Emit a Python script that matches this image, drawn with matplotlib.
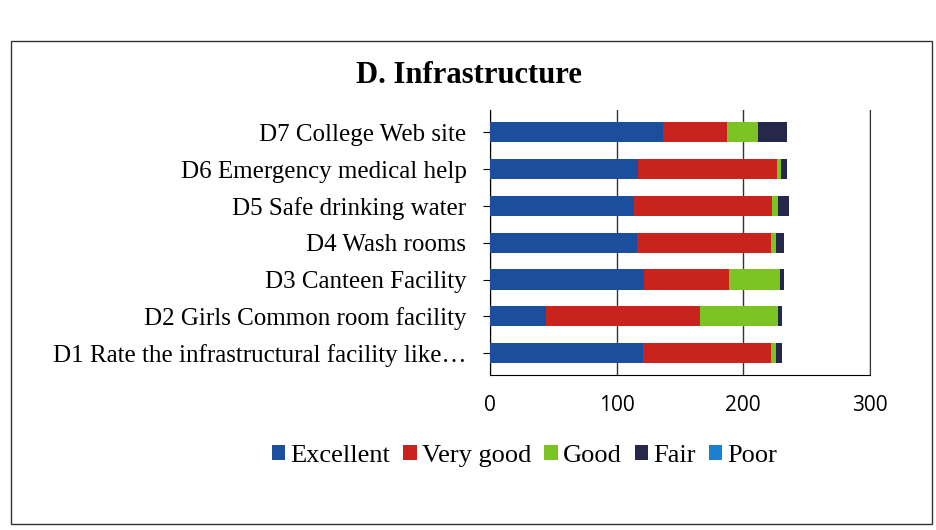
import matplotlib.pyplot as plt
import numpy as np
from matplotlib.patches import Rectangle

items = ['D1 Rate the infrastructural facility like…', 'D2 Girls Common room facility',
         'D3 Canteen Facility', 'D4 Wash rooms', 'D5 Safe drinking water',
         'D6 Emergency medical help', 'D7 College Web site']
excellent = [121, 44, 122, 116, 114, 117, 137]
very_good = [101, 122, 67, 106, 109, 110, 50]
good = [4, 62, 40, 4, 5, 3, 25]
fair = [5, 3, 3, 6, 8, 5, 23]
poor = [0, 0, 0, 0, 0, 0, 0]

series = [('Excellent', excellent, '#1b4f9e'), ('Very good', very_good, '#c8231c'),
          ('Good', good, '#7cc424'), ('Fair', fair, '#25284a'), ('Poor', poor, '#1c7fd0')]

serif = ['Liberation Serif', 'DejaVu Serif']
fig = plt.figure(figsize=(9.37, 5.30), dpi=100)
ax = fig.add_axes([0.523, 0.292, 0.405, 0.50])

y = np.arange(len(items))
left = np.zeros(len(items))
for name, vals, col in series:
    ax.barh(y, vals, left=left, height=0.55, color=col, label=name, zorder=3)
    left += np.array(vals)

ax.set_xlim(0, 300)
ax.set_ylim(-0.6, 6.6)
ax.set_xticks([0, 100, 200, 300])
ax.tick_params(axis='x', length=0, labelsize=15, pad=14)
for lab in ax.get_xticklabels():
    lab.set_family(['Open Sans', 'DejaVu Sans'])
ax.set_yticks(y)
ax.set_yticklabels(items, fontsize=18, family=serif)
ax.tick_params(axis='y', length=5, pad=12)
ax.grid(axis='x', color='#333333', linewidth=1, zorder=0)
ax.spines['top'].set_visible(False)
ax.spines['right'].set_color('#333333')

fig.text(0.50, 0.858, 'D. Infrastructure', ha='center', va='center', fontsize=22,
         fontweight='bold', family=serif)

fig.legend(loc='center', bbox_to_anchor=(0.56, 0.14), ncol=5, frameon=False,
           prop={'family': serif, 'size': 19}, handlelength=0.5, handleheight=0.5,
           handletextpad=0.2, columnspacing=0.5)

fig.patches.append(Rectangle((0.012, 0.012), 0.983, 0.91, transform=fig.transFigure,
                             fill=False, edgecolor='#333333', linewidth=1))

fig.savefig('out.png', dpi=100)
